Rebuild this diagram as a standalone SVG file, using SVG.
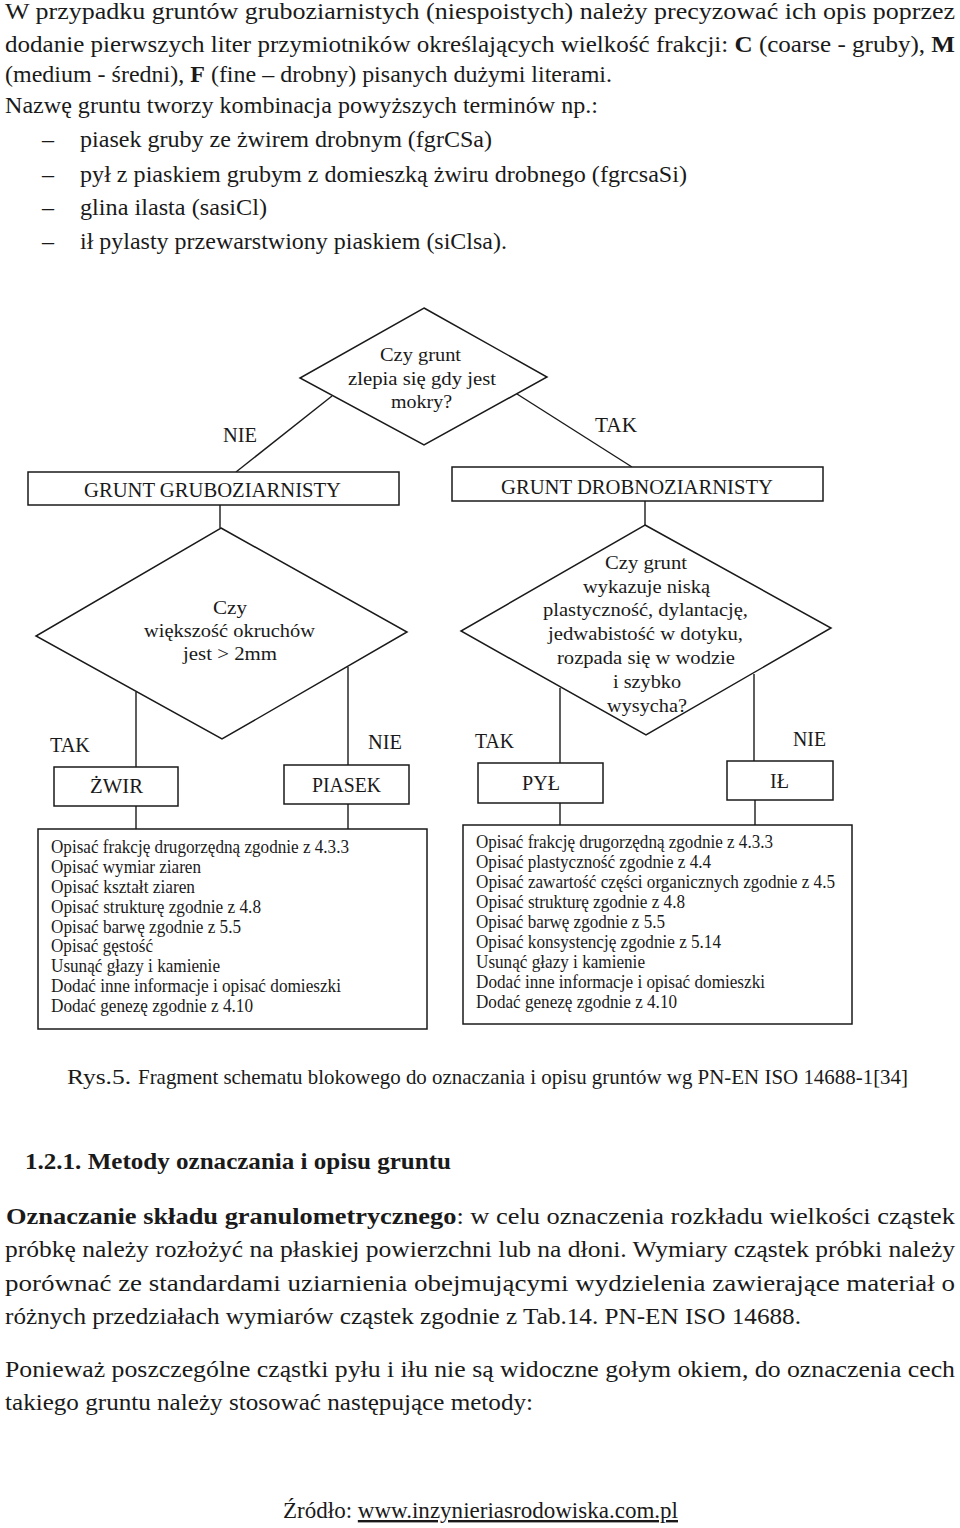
<svg xmlns="http://www.w3.org/2000/svg" width="960" height="1528" viewBox="0 0 960 1528">
<style>
  .t { font-family: "Liberation Serif", "Times New Roman", serif; fill: #1a1a1a; }
  .body { font-size: 24px; }
  .body2 { font-size: 24px; }
  .b { font-weight: bold; }
  .dg { font-family: "Liberation Serif", "Times New Roman", serif; fill: #1a1a1a; font-size: 19px; }
  .lbl { font-size: 20px; }
  .box { fill: #ffffff; stroke: #1a1a1a; stroke-width: 1.5; }
  .ln { fill: none; stroke: #1a1a1a; stroke-width: 1.4; }
</style>
<rect x="0" y="0" width="960" height="1528" fill="#ffffff"/>

<g id="intro-text">
  <text class="t body" x="5" y="19" textLength="950" lengthAdjust="spacingAndGlyphs">W przypadku gruntów gruboziarnistych (niespoistych) należy precyzować ich opis poprzez</text>
  <text class="t body" x="5" y="52" textLength="950" lengthAdjust="spacingAndGlyphs">dodanie pierwszych liter przymiotników określających wielkość frakcji: <tspan class="b">C</tspan> (coarse - gruby), <tspan class="b">M</tspan></text>
  <text class="t body" x="5" y="82" textLength="607" lengthAdjust="spacingAndGlyphs">(medium - średni), <tspan class="b">F</tspan> (fine – drobny) pisanych dużymi literami.</text>
  <text class="t body" x="5" y="113" textLength="593" lengthAdjust="spacingAndGlyphs">Nazwę gruntu tworzy kombinacja powyższych terminów np.:</text>
  <text class="t body" x="42" y="147">–</text>
  <text class="t body" x="80" y="147" textLength="412" lengthAdjust="spacingAndGlyphs">piasek gruby ze żwirem drobnym (fgrCSa)</text>
  <text class="t body" x="42" y="182">–</text>
  <text class="t body" x="80" y="182" textLength="607" lengthAdjust="spacingAndGlyphs">pył z piaskiem grubym z domieszką żwiru drobnego (fgrcsaSi)</text>
  <text class="t body" x="42" y="215">–</text>
  <text class="t body" x="80" y="215" textLength="187" lengthAdjust="spacingAndGlyphs">glina ilasta (sasiCl)</text>
  <text class="t body" x="42" y="249">–</text>
  <text class="t body" x="80" y="249" textLength="427" lengthAdjust="spacingAndGlyphs">ił pylasty przewarstwiony piaskiem (siClsa).</text>
</g>

<g id="connectors">
  <line class="ln" x1="332" y1="396" x2="236" y2="472"/>
  <line class="ln" x1="517" y1="394" x2="632" y2="467"/>
  <line class="ln" x1="220" y1="505" x2="220" y2="528"/>
  <line class="ln" x1="645" y1="501" x2="645" y2="525"/>
  <line class="ln" x1="136" y1="692" x2="136" y2="767"/>
  <line class="ln" x1="348" y1="667" x2="348" y2="765"/>
  <line class="ln" x1="560" y1="688" x2="560" y2="763"/>
  <line class="ln" x1="754" y1="674" x2="754" y2="761"/>
  <line class="ln" x1="136" y1="806" x2="136" y2="829"/>
  <line class="ln" x1="348" y1="804" x2="348" y2="829"/>
  <line class="ln" x1="560" y1="803" x2="560" y2="825"/>
  <line class="ln" x1="755" y1="800" x2="755" y2="825"/>
  <text class="dg lbl" x="223" y="442" textLength="34" lengthAdjust="spacingAndGlyphs">NIE</text>
  <text class="dg lbl" x="595" y="432" textLength="42" lengthAdjust="spacingAndGlyphs">TAK</text>
  <text class="dg lbl" x="50" y="752" textLength="40" lengthAdjust="spacingAndGlyphs">TAK</text>
  <text class="dg lbl" x="368" y="749" textLength="34" lengthAdjust="spacingAndGlyphs">NIE</text>
  <text class="dg lbl" x="475" y="748" textLength="39" lengthAdjust="spacingAndGlyphs">TAK</text>
  <text class="dg lbl" x="793" y="746" textLength="33" lengthAdjust="spacingAndGlyphs">NIE</text>
</g>

<g id="q-zlepia">
  <polygon class="box" points="424,308 547,377 424,445 300,378"/>
  <text class="dg" x="380" y="361" textLength="81" lengthAdjust="spacingAndGlyphs">Czy grunt</text>
  <text class="dg" x="348" y="385" textLength="148" lengthAdjust="spacingAndGlyphs">zlepia się gdy jest</text>
  <text class="dg" x="391" y="408" textLength="61" lengthAdjust="spacingAndGlyphs">mokry?</text>
</g>

<g id="grunt-gruboziarnisty">
  <rect class="box" x="28" y="472" width="371" height="33"/>
  <text class="dg lbl" x="84" y="497" textLength="257" lengthAdjust="spacingAndGlyphs">GRUNT GRUBOZIARNISTY</text>
</g>

<g id="grunt-drobnoziarnisty">
  <rect class="box" x="452" y="467" width="371" height="34"/>
  <text class="dg lbl" x="501" y="494" textLength="272" lengthAdjust="spacingAndGlyphs">GRUNT DROBNOZIARNISTY</text>
</g>

<g id="q-okruchy">
  <polygon class="box" points="221,528 407,632 222,739 36,636"/>
  <text class="dg" x="213" y="614" textLength="34" lengthAdjust="spacingAndGlyphs">Czy</text>
  <text class="dg" x="144" y="637" textLength="171" lengthAdjust="spacingAndGlyphs">większość okruchów</text>
  <text class="dg" x="183" y="660" textLength="94" lengthAdjust="spacingAndGlyphs">jest &gt; 2mm</text>
</g>

<g id="q-plastycznosc">
  <polygon class="box" points="645,525 831,628 646,735 461,631"/>
  <text class="dg" x="605" y="569" textLength="82" lengthAdjust="spacingAndGlyphs">Czy grunt</text>
  <text class="dg" x="583" y="593" textLength="127" lengthAdjust="spacingAndGlyphs">wykazuje niską</text>
  <text class="dg" x="543" y="616" textLength="205" lengthAdjust="spacingAndGlyphs">plastyczność, dylantację,</text>
  <text class="dg" x="548" y="640" textLength="195" lengthAdjust="spacingAndGlyphs">jedwabistość w dotyku,</text>
  <text class="dg" x="557" y="664" textLength="178" lengthAdjust="spacingAndGlyphs">rozpada się w wodzie</text>
  <text class="dg" x="613" y="688" textLength="68" lengthAdjust="spacingAndGlyphs">i szybko</text>
  <text class="dg" x="607" y="712" textLength="80" lengthAdjust="spacingAndGlyphs">wysycha?</text>
</g>

<g id="zwir">
  <rect class="box" x="54" y="767" width="124" height="39"/>
  <text class="dg lbl" x="90" y="793" textLength="53" lengthAdjust="spacingAndGlyphs">ŻWIR</text>
</g>

<g id="piasek">
  <rect class="box" x="284" y="765" width="125" height="39"/>
  <text class="dg lbl" x="312" y="792" textLength="69" lengthAdjust="spacingAndGlyphs">PIASEK</text>
</g>

<g id="pyl">
  <rect class="box" x="478" y="763" width="125" height="40"/>
  <text class="dg lbl" x="522" y="790" textLength="38" lengthAdjust="spacingAndGlyphs">PYŁ</text>
</g>

<g id="il">
  <rect class="box" x="727" y="761" width="106" height="39"/>
  <text class="dg lbl" x="770" y="788" textLength="19" lengthAdjust="spacingAndGlyphs">IŁ</text>
</g>

<g id="opis-gruboziarnisty">
  <rect class="box" x="38" y="829" width="389" height="200"/>
  <g class="dg" font-size="16">
    <text x="51" y="853" textLength="298" lengthAdjust="spacingAndGlyphs">Opisać frakcję drugorzędną zgodnie z 4.3.3</text>
    <text x="51" y="873" textLength="150" lengthAdjust="spacingAndGlyphs">Opisać wymiar ziaren</text>
    <text x="51" y="893" textLength="144" lengthAdjust="spacingAndGlyphs">Opisać kształt ziaren</text>
    <text x="51" y="913" textLength="210" lengthAdjust="spacingAndGlyphs">Opisać strukturę zgodnie z 4.8</text>
    <text x="51" y="933" textLength="190" lengthAdjust="spacingAndGlyphs">Opisać barwę zgodnie z 5.5</text>
    <text x="51" y="952" textLength="102" lengthAdjust="spacingAndGlyphs">Opisać gęstość</text>
    <text x="51" y="972" textLength="169" lengthAdjust="spacingAndGlyphs">Usunąć głazy i kamienie</text>
    <text x="51" y="992" textLength="290" lengthAdjust="spacingAndGlyphs">Dodać inne informacje i opisać domieszki</text>
    <text x="51" y="1012" textLength="202" lengthAdjust="spacingAndGlyphs">Dodać genezę zgodnie z 4.10</text>
  </g>
</g>

<g id="opis-drobnoziarnisty">
  <rect class="box" x="463" y="825" width="389" height="199"/>
  <g class="dg" font-size="16">
    <text x="476" y="848" textLength="297" lengthAdjust="spacingAndGlyphs">Opisać frakcję drugorzędną zgodnie z 4.3.3</text>
    <text x="476" y="868" textLength="235" lengthAdjust="spacingAndGlyphs">Opisać plastyczność zgodnie z 4.4</text>
    <text x="476" y="888" textLength="359" lengthAdjust="spacingAndGlyphs">Opisać zawartość części organicznych zgodnie z 4.5</text>
    <text x="476" y="908" textLength="209" lengthAdjust="spacingAndGlyphs">Opisać strukturę zgodnie z 4.8</text>
    <text x="476" y="928" textLength="189" lengthAdjust="spacingAndGlyphs">Opisać barwę zgodnie z 5.5</text>
    <text x="476" y="948" textLength="245" lengthAdjust="spacingAndGlyphs">Opisać konsystencję zgodnie z 5.14</text>
    <text x="476" y="968" textLength="169" lengthAdjust="spacingAndGlyphs">Usunąć głazy i kamienie</text>
    <text x="476" y="988" textLength="289" lengthAdjust="spacingAndGlyphs">Dodać inne informacje i opisać domieszki</text>
    <text x="476" y="1008" textLength="201" lengthAdjust="spacingAndGlyphs">Dodać genezę zgodnie z 4.10</text>
  </g>
</g>

<g id="caption">
  <text class="t" font-size="22" x="67" y="1084" textLength="64" lengthAdjust="spacingAndGlyphs">Rys.5.</text>
  <text class="t" font-size="21" x="138" y="1084" textLength="770" lengthAdjust="spacingAndGlyphs">Fragment schematu blokowego do oznaczania i opisu gruntów wg PN-EN ISO 14688-1[34]</text>
</g>

<g id="body-text">
  <text class="t body2 b" x="25" y="1169" textLength="426" lengthAdjust="spacingAndGlyphs">1.2.1. Metody oznaczania i opisu gruntu</text>
  <text class="t body2" x="6" y="1224" textLength="949" lengthAdjust="spacingAndGlyphs"><tspan class="b">Oznaczanie składu granulometrycznego</tspan>: w celu oznaczenia rozkładu wielkości cząstek</text>
  <text class="t body2" x="5" y="1257" textLength="950" lengthAdjust="spacingAndGlyphs">próbkę należy rozłożyć na płaskiej powierzchni lub na dłoni. Wymiary cząstek próbki należy</text>
  <text class="t body2" x="5" y="1291" textLength="950" lengthAdjust="spacingAndGlyphs">porównać ze standardami uziarnienia obejmującymi wydzielenia zawierające materiał o</text>
  <text class="t body2" x="5" y="1324" textLength="796" lengthAdjust="spacingAndGlyphs">różnych przedziałach wymiarów cząstek zgodnie z Tab.14. PN-EN ISO 14688.</text>
  <text class="t body2" x="5" y="1377" textLength="950" lengthAdjust="spacingAndGlyphs">Ponieważ poszczególne cząstki pyłu i iłu nie są widoczne gołym okiem, do oznaczenia cech</text>
  <text class="t body2" x="5" y="1410" textLength="528" lengthAdjust="spacingAndGlyphs">takiego gruntu należy stosować następujące metody:</text>
</g>

<g id="source">
  <text class="t body2" x="283" y="1518" textLength="395" lengthAdjust="spacingAndGlyphs">Źródło: <tspan text-decoration="underline">www.inzynieriasrodowiska.com.pl</tspan></text>
</g>
</svg>
